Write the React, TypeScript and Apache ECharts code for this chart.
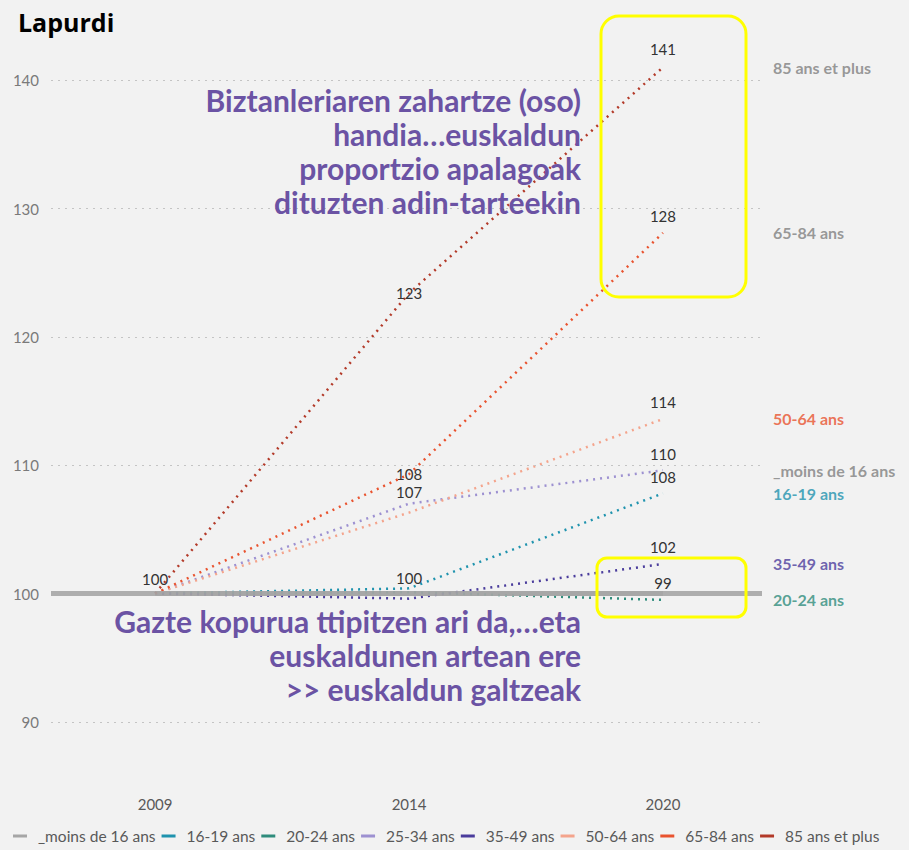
import React, { useEffect, useRef } from 'react';
import * as echarts from 'echarts';

const years = ['2009', '2014', '2020'];
const yTicks = [90, 100, 110, 120, 130, 140];
const seriesNames = ['_moins de 16 ans', '16-19 ans', '20-24 ans', '25-34 ans', '35-49 ans', '50-64 ans', '65-84 ans', '85 ans et plus'];

const moins16 = [100, 100, 100];
const a1619 = [100, 100.4, 107.8];
const a2024 = [100, 100.1, 99.5];
const a2534 = [100, 107.0, 109.6];
const a3549 = [100, 99.6, 102.3];
const a5064 = [100, 106.3, 113.6];
const a6584 = [100, 109.3, 128.1];
const a85 = [100, 123.4, 141];

const lbl1619 = ['', '100', '108'];
const lbl2024 = ['', '', '99'];
const lbl2534 = ['', '107', '110'];
const lbl3549 = ['', '', '102'];
const lbl5064 = ['', '', '114'];
const lbl6584 = ['', '108', '128'];
const lbl85 = ['100', '123', '141'];

const endLabelTexts = ['85 ans et plus', '65-84 ans', '50-64 ans', '_moins de 16 ans', '16-19 ans', '35-49 ans', '20-24 ans'];
const endLabelSeries = [a85, a6584, a5064, a2534, a1619, a3549, a2024];

const annotationTop = 'Biztanleriaren zahartze (oso)\nhandia…euskaldun\nproportzio apalagoak\ndituzten adin-tarteekin';
const annotationBottom = 'Gazte kopurua ttipitzen ari da,…eta\neuskaldunen artean ere\n>> euskaldun galtzeak';

export default function App() {
  const ref = useRef<HTMLDivElement>(null);
  useEffect(() => {
    const chart = echarts.init(ref.current!, null, { renderer: 'svg' });
    const font = 'Lato';
    const xMin = -0.41;
    const xMax = 2.39;
    const colors = ['#a6a6a6', '#1f93ae', '#2f8c7c', '#9d91d1', '#4a3c9c', '#f4a48c', '#e9532f', '#b33a29'];
    const endColors = ['#7f7f7f', '#7f7f7f', '#e9532f', '#7f7f7f', '#1f93ae', '#4a3c9c', '#2f8c7c'];

    const top = (d: number) => ({ position: 'top', distance: d });
    const mid = { position: 'inside' };

    const mkSeries = (idx: number, values: number[], labels: string[], cfg: any[]) => ({
      type: 'line',
      name: seriesNames[idx],
      color: colors[idx],
      symbol: 'circle',
      symbolSize: 0,
      showSymbol: true,
      lineStyle: { color: colors[idx], width: 2.5, type: [2, 5] },
      label: {
        show: true,
        color: '#333333',
        fontSize: 15,
        fontFamily: font,
        formatter: (p: any) => labels[p.dataIndex],
      },
      data: values.map((v, i) => ({
        value: [i, v],
        label: labels[i] ? { show: true, ...(cfg[i] || top(9)) } : { show: false },
      })),
      z: 3,
    });

    const gridLines = yTicks.filter((t) => t !== 100).map((t) => ({
      yAxis: t,
      lineStyle: { color: '#c4c4c4', width: 1, type: [2, 5] },
    }));

    const annStyle = {
      font: 'bold 30px Lato',
      fill: '#6b53a4',
      align: 'right',
      textAlign: 'right',
      verticalAlign: 'top',
      textVerticalAlign: 'top',
      lineHeight: 34,
    };

    const option: any = {
      animation: false,
      backgroundColor: '#f2f2f2',
      grid: { left: 51, right: 147, top: 16, bottom: 64 },
      xAxis: {
        type: 'value',
        min: xMin,
        max: xMax,
        axisLine: { show: false },
        axisTick: { show: false },
        splitLine: { show: false },
        axisLabel: {
          customValues: [0, 1, 2],
          formatter: (v: number) => years[Math.round(v)] ?? '',
          color: '#595959',
          fontSize: 15,
          fontFamily: font,
          margin: 10,
        },
      },
      yAxis: {
        type: 'value',
        min: 85,
        max: 145,
        axisLine: { show: false },
        axisTick: { show: false, customValues: yTicks },
        splitLine: { show: false },
        axisLabel: {
          customValues: yTicks,
          color: '#7a7a7a',
          fontSize: 15,
          fontFamily: font,
          margin: 12,
        },
      },
      legend: {
        bottom: 1,
        left: 8,
        data: seriesNames,
        icon: 'rect',
        itemWidth: 14,
        itemHeight: 3,
        itemGap: 6,
        textStyle: { color: '#595959', fontSize: 15.5, fontFamily: font, padding: [0, 0, 0, 6] },
      },
      graphic: [
        {
          type: 'text',
          left: 18,
          top: 9,
          style: { text: 'Lapurdi', font: 'bold 25px "Open Sans"', fill: '#000000' },
        },
        {
          type: 'text',
          x: 581,
          y: 83,
          z: 10,
          style: { ...annStyle, text: annotationTop },
        },
        {
          type: 'text',
          x: 581,
          y: 604,
          z: 10,
          style: { ...annStyle, text: annotationBottom },
        },
        {
          type: 'rect',
          z: 10,
          shape: { x: 601, y: 16, width: 145, height: 281, r: 18 },
          style: { fill: 'none', stroke: '#ffff00', lineWidth: 3 },
        },
        {
          type: 'rect',
          z: 10,
          shape: { x: 597, y: 558, width: 149, height: 59, r: 10 },
          style: { fill: 'none', stroke: '#ffff00', lineWidth: 3 },
        },
      ],
      series: [
        {
          type: 'line',
          name: seriesNames[0],
          color: colors[0],
          symbol: 'none',
          lineStyle: { color: colors[0], width: 5, opacity: 0.9 },
          data: moins16.map((v, i) => [i, v]),
          z: 1,
          markLine: {
            silent: true,
            symbol: ['none', 'none'],
            label: { show: false },
            data: [
              ...gridLines,
              { yAxis: 100, lineStyle: { color: colors[0], width: 5, type: 'solid', opacity: 0.9 } },
            ],
          },
        },
        mkSeries(1, a1619, lbl1619, [null, top(3), top(9)]),
        mkSeries(2, a2024, lbl2024, [null, null, top(9)]),
        mkSeries(3, a2534, lbl2534, [null, top(4), top(9)]),
        mkSeries(4, a3549, lbl3549, [null, null, top(9)]),
        mkSeries(5, a5064, lbl5064, [null, null, top(9)]),
        mkSeries(6, a6584, lbl6584, [null, mid, top(9)]),
        mkSeries(7, a85, lbl85, [top(7), mid, top(11)]),
        {
          type: 'scatter',
          name: 'endLabels',
          symbolSize: 0,
          silent: true,
          data: endLabelSeries.map((s, i) => ({
            value: [xMax, s[s.length - 1]],
            label: {
              show: true,
              position: 'right',
              distance: 11,
              formatter: endLabelTexts[i],
              color: endColors[i],
              fontWeight: 'bold',
              fontSize: 16,
              fontFamily: font,
            },
          })),
          z: 4,
        },
      ],
    };
    chart.setOption(option);
    return () => chart.dispose();
  }, []);
  return <div ref={ref} style={{ width: 909, height: 850, position: 'absolute', left: 0, top: 0 }} />;
}
